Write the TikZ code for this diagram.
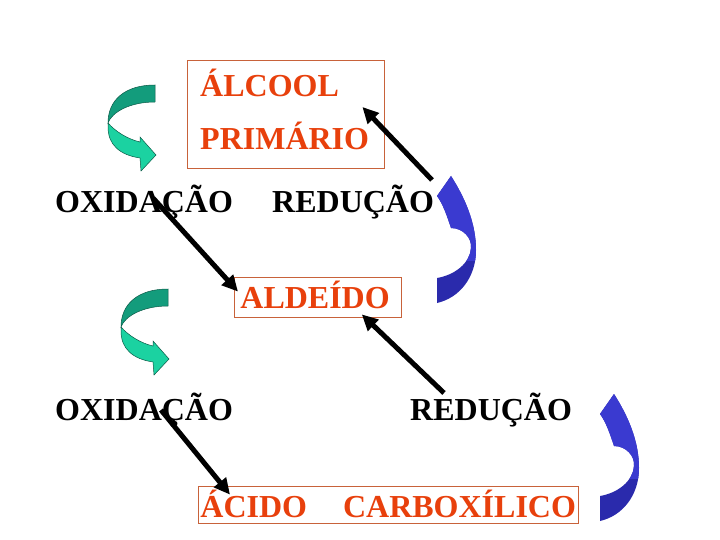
\documentclass[tikz,border=0pt]{standalone}
\usepackage{fontspec}
\setmainfont{Liberation Serif}
\usetikzlibrary{arrows.meta,positioning,fit}
\definecolor{ink}{HTML}{000000}
\definecolor{rust}{HTML}{E8400C}
\definecolor{rim}{HTML}{C8623A}
\definecolor{tealdark}{HTML}{139C7C}
\definecolor{teallight}{HTML}{1BD2A1}
\definecolor{tealedge}{HTML}{0B5A47}
\definecolor{indigo}{HTML}{3A3AD0}
\definecolor{indigodark}{HTML}{2A2AAC}
\newcommand{\bandpath}{(14,-102) -- (0,-82) .. controls (6,-74) and (10,-62) .. (14,-50)
  .. controls (26,-50) and (35,-40) .. (34,-30) .. controls (33,-15) and (18,-3) .. (0,0)
  -- (0,25) .. controls (22,20) and (39,0) .. (39,-28) .. controls (39,-55) and (28,-80) .. (14,-102) -- cycle}
\tikzset{
  word/.style={font=\fontsize{32}{38}\selectfont\bfseries,inner sep=0pt,anchor=base west},
  product/.style={draw=rim,line width=0.8pt,text=rust,font=\fontsize{32}{38}\selectfont\bfseries,anchor=base west},
  flow/.style={-{Triangle[length=16pt,width=15pt]},line width=5pt,draw=ink},
  twist/.pic={
    \filldraw[fill=teallight,draw=tealedge,line width=0.5pt] (-47,38) .. controls (-40,46) and (-28,54) .. (-15,57)
      -- (-15,52) -- (1,70) -- (-14,86) -- (-15,73) .. controls (-35,70) and (-47,60) .. (-47,42) -- cycle;
    \filldraw[fill=tealdark,draw=tealedge,line width=0.5pt] (0,0) .. controls (-30,0) and (-47,15) .. (-47,38)
      .. controls (-43,27) and (-25,17) .. (0,17) -- cycle;
  },
  swing/.pic={
    \fill[indigodark] \bandpath;
    \begin{scope}
      \clip (-5,-110) rectangle (45,-18);
      \fill[indigo] \bandpath;
    \end{scope}
  }
}
\begin{document}
\begin{tikzpicture}[x=1pt,y=-1pt]
  \fill[white] (0,0) rectangle (720,540);
  \useasboundingbox (0,0) rectangle (720,540);

  % curved side arrows
  \pic at (155,85) {twist};
  \pic at (168,289) {twist};
  \pic at (437,278) {swing};
  \pic at (600,496) {swing};

  % compounds
  \node[word,text=rust] (alc1) at (200,97) {ÁLCOOL};
  \node[word,text=rust] (alc2) at (200,150) {PRIMÁRIO};
  \node[draw=rim,line width=0.8pt,inner sep=0pt,fit={(187,60) (384,168)}] (alc) {};
  \node[product,text width=155pt,align=left,inner xsep=6pt,inner ysep=6pt,text height=25pt,text depth=3pt] (ald) at (234,308) {ALDEÍDO};
  \node[product,inner xsep=2pt,inner ysep=6pt,text height=25pt,text depth=0pt] (acid) at (198,517) {ÁCIDO\hspace{36pt}CARBOXÍLICO};

  % reactions
  \node[word] (ox1) at (55,212) {OXIDAÇÃO};
  \node[word] (red1) at (272,212) {REDUÇÃO};
  \node[word] (ox2) at (55,420) {OXIDAÇÃO};
  \node[word] (red2) at (410,420) {REDUÇÃO};

  \coordinate (ox1s) at (153,198);
  \coordinate (red1s) at (432,180);
  \coordinate (ox2s) at (161,410);
  \coordinate (red2s) at (444,393);
  \draw[flow] (ox1s) -- ([shift={(4,15)}]ald.north west);
  \draw[flow] (red1s) -- ([shift={(-22,-7)}]alc.east);
  \draw[flow] (ox2s) -- ([shift={(32,9)}]acid.north west);
  \draw[flow] (red2s) -- ([shift={(-40,-3)}]ald.south east);
\end{tikzpicture}
\end{document}
